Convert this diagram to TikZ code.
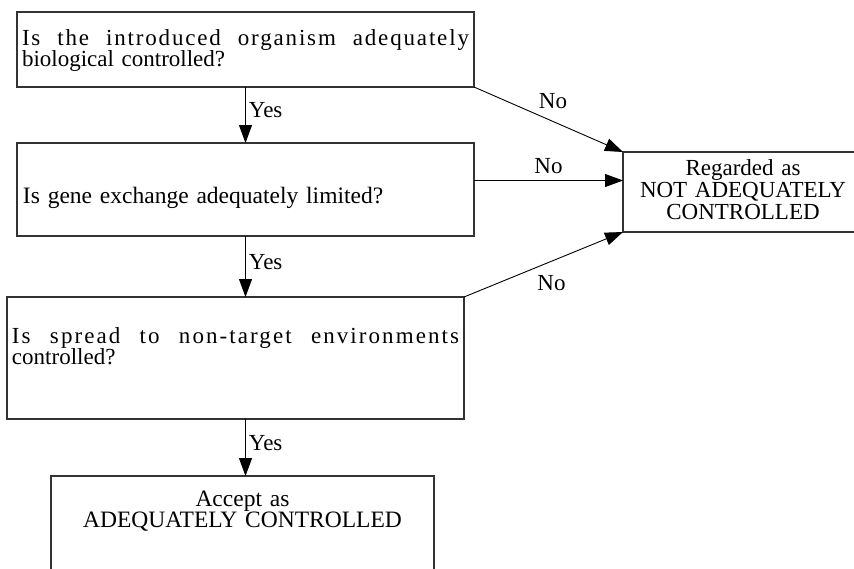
\documentclass[tikz,border=0pt]{standalone}
\usepackage{fontspec}
\setmainfont{Liberation Serif}
\usetikzlibrary{arrows.meta}

\begin{document}
\begin{tikzpicture} [x=1pt,y=-1pt,semithick]
        \tikzstyle{question}=[draw=black!80, line width=1.1pt, anchor=north west, inner ysep=0pt, outer sep=0pt, align=left, font=\fontsize{23}{18}\selectfont]
        \tikzstyle{verdict}=[question, inner xsep=0pt, align=center]
        \tikzstyle{answer}=[font=\fontsize{23}{23}\selectfont, inner sep=3pt]
        \useasboundingbox (0,0) rectangle (854,568);

        \node[question, inner xsep=5pt, text width=447pt, text height=33pt, text depth=42pt] (Organism) at (17,12) {\makebox[\linewidth][s]{\addfontfeature{LetterSpace=8}Is\hfill the\hfill introduced\hfill organism\hfill adequately}\\biological controlled?};
        \node[question, inner xsep=6pt, text width=445pt, text height=60pt, text depth=33pt, font=\fontsize{23.5}{18}\selectfont] (Gene) at (17,143) {Is gene exchange adequately limited?};
        \node[question, inner xsep=5pt, text width=447pt, text height=46pt, text depth=76pt, font=\fontsize{23}{19}\selectfont] (Spread) at (7,297) {\makebox[\linewidth][s]{\addfontfeature{LetterSpace=9}Is\hfill spread\hfill to\hfill non-target\hfill environments}\\controlled?};
        \node[verdict, text width=383pt, text height=30pt, text depth=94pt, font=\fontsize{23.5}{17}\selectfont] (Accept) at (51,476) {Accept as\\ADEQUATELY CONTROLLED};
        \node[verdict, text width=240pt, text height=23pt, text depth=57pt, font=\fontsize{23}{22}\selectfont] (Regarded) at (623,152) {Regarded as\\NOT ADEQUATELY\\CONTROLLED};

        \path[-{Triangle[length=18pt,width=13pt]}, line width=0.9pt]
        (Organism) edge node[answer, right, pos=0.42]{Yes} (Gene)
        (Gene.south) edge node[answer, right, pos=0.42]{Yes} (Gene.south |- Spread.north)
        (Gene.south |- Spread.south) edge node[answer, right, pos=0.42]{Yes} (Gene.south |- Accept.north)
        (Organism.south east) edge node[answer, above=9pt, pos=0.53]{No} (Regarded.north west)
        ([yshift=9pt]Gene.east) edge node[answer, above=3pt]{No} ([yshift=9pt]Gene.east -| Regarded.west)
        (Spread.north east) edge node[answer, below=11pt, pos=0.55]{No} (Regarded.south west);
      \end{tikzpicture}
\end{document}
